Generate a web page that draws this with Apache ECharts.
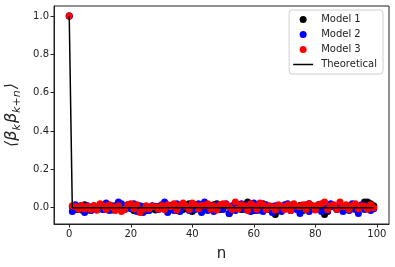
<!DOCTYPE html>
<html>
<head>
<meta charset="utf-8">
<script src="https://cdn.jsdelivr.net/npm/echarts@6/dist/echarts.min.js"></script>
<style>html,body{margin:0;padding:0;background:#fff}#c{width:395px;height:267px}</style>
</head>
<body>
<div id="c"></div>
<script>
const model1 = [
  1.0, 0.005, -0.010, 0.008, -0.012, 0.015, -0.008, -0.015, 0.010, -0.005,
  0.012, -0.010, 0.005, 0.008, -0.012, 0.010, -0.005, 0.012, -0.008, 0.005,
  0.010, -0.015, -0.010, -0.020, 0.005, -0.015, -0.010, 0.008, -0.012, 0.005,
  0.010, -0.008, 0.012, -0.010, 0.005, -0.015, 0.008, -0.010, 0.012, 0.020,
  -0.020, 0.015, 0.005, -0.010, 0.020, 0.010, -0.008, 0.015, 0.020, -0.010,
  0.005, 0.010, -0.030, 0.008, -0.005, 0.012, -0.010, 0.015, 0.030, -0.012,
  -0.015, 0.010, -0.012, 0.020, 0.005, -0.010, 0.008, -0.035, 0.005, -0.012,
  0.010, 0.015, -0.010, 0.005, -0.008, 0.012, -0.015, 0.010, 0.020, -0.005,
  0.008, 0.010, -0.012, -0.035, -0.020, 0.005, 0.010, -0.008, 0.012, 0.005,
  -0.010, 0.008, -0.005, 0.010, -0.008, 0.005, 0.030, 0.030, 0.020, 0.010
];
const model2 = [
  1.0, -0.020, 0.015, -0.010, 0.012, -0.025, 0.010, -0.015, 0.005, -0.012,
  0.015, -0.010, 0.025, -0.015, 0.010, -0.008, 0.030, 0.020, -0.010, 0.015,
  -0.005, 0.020, -0.020, 0.010, -0.025, 0.005, -0.015, 0.010, 0.008, -0.010,
  0.015, 0.030, -0.025, 0.010, -0.015, 0.020, -0.020, 0.005, 0.010, -0.015,
  0.015, -0.010, 0.020, -0.025, 0.030, -0.015, 0.010, -0.020, 0.015, 0.005,
  -0.010, 0.020, -0.030, 0.010, -0.015, 0.005, 0.020, -0.010, 0.015, -0.020,
  0.025, -0.015, 0.010, -0.020, 0.015, -0.010, -0.025, 0.010, 0.005, -0.020,
  0.015, 0.020, -0.015, 0.005, -0.010, -0.030, 0.010, 0.015, -0.020, 0.010,
  -0.010, 0.015, -0.020, 0.010, -0.015, 0.020, 0.005, -0.010, 0.015, -0.020,
  0.010, -0.015, 0.020, -0.010, -0.030, 0.015, -0.010, 0.010, -0.015, -0.005
];
const model3 = [
  1.0, 0.010, 0.005, -0.008, 0.012, -0.005, 0.008, -0.010, 0.010, -0.012,
  0.020, 0.008, -0.010, 0.015, 0.005, -0.015, 0.010, -0.020, -0.010, 0.015,
  0.020, -0.005, 0.015, -0.025, -0.010, 0.010, -0.005, 0.008, 0.005, -0.008,
  0.012, -0.010, 0.015, 0.005, 0.020, -0.012, 0.010, 0.025, 0.008, -0.010,
  0.025, 0.015, -0.005, 0.012, 0.010, 0.020, -0.008, 0.010, -0.012, 0.015,
  0.020, 0.018, 0.005, -0.010, 0.030, -0.005, 0.015, 0.010, -0.015, 0.020,
  0.010, -0.008, 0.025, 0.015, -0.010, 0.010, 0.005, -0.012, 0.015, 0.008,
  -0.010, 0.015, -0.015, 0.020, 0.008, 0.005, 0.015, -0.010, 0.020, 0.010,
  -0.012, 0.015, 0.020, 0.030, -0.010, 0.010, 0.015, -0.008, 0.030, 0.005,
  0.015, -0.010, 0.010, 0.020, -0.005, 0.010, 0.008, -0.008, 0.015, 0.000
];
const theoN = [0, 1, 99];
const theoV = [1, 0, 0];
const xTicks = [0, 20, 40, 60, 80, 100];
const yTicks = [0, 0.2, 0.4, 0.6, 0.8, 1.0];

const toPairs = arr => arr.map((v, i) => [i, v]);
const font = 'DejaVu Sans';
const chart = echarts.init(document.getElementById('c'), null, {renderer: 'canvas'});
chart.setOption({
  animation: false,
  backgroundColor: '#fff',
  textStyle: {fontFamily: font},
  grid: {left: 54, right: 6, top: 6, bottom: 43, outerBoundsMode: 'none', containLabel: false,
         show: true, borderColor: '#222', borderWidth: 1, backgroundColor: 'transparent'},
  legend: {
    orient: 'vertical', right: 12, top: 10,
    padding: [4, 6, 4, 4], itemGap: 4, itemWidth: 20, itemHeight: 7,
    borderColor: '#d0d0d0', borderWidth: 1, borderRadius: 3,
    backgroundColor: 'rgba(255,255,255,0.85)',
    textStyle: {fontFamily: font, fontSize: 10, color: '#222', lineHeight: 11, padding: [0, 0, 0, 3]},
    data: [
      {name: 'Model 1', icon: 'circle'},
      {name: 'Model 2', icon: 'circle'},
      {name: 'Model 3', icon: 'circle'},
      {name: 'Theoretical', icon: 'path://M0,0 H20 V1.5 H0 Z'}
    ]
  },
  xAxis: {
    type: 'value', min: -4.95, max: 103.95,
    name: 'n', nameLocation: 'middle', nameGap: 23,
    nameTextStyle: {fontFamily: font, fontSize: 15, color: '#222'},
    axisLine: {show: true, onZero: false, lineStyle: {color: '#222', width: 1}},
    axisTick: {show: true, length: 3.5, customValues: xTicks, lineStyle: {color: '#222'}},
    axisLabel: {customValues: xTicks, fontSize: 10, color: '#222', margin: 5},
    splitLine: {show: false}
  },
  yAxis: {
    type: 'value', min: -0.085, max: 1.052,
    name: '{t|⟨β}{s|k}{t|β}{s|k+n}{t|⟩}', nameLocation: 'middle', nameGap: 29, nameRotate: 90,
    nameTextStyle: {
      color: '#222',
      rich: {
        t: {fontFamily: font, fontSize: 16, fontStyle: 'italic', color: '#222'},
        s: {fontFamily: font, fontSize: 11, fontStyle: 'italic', color: '#222', padding: [9, 1, 0, 0]}
      }
    },
    axisLine: {show: true, onZero: false, lineStyle: {color: '#222', width: 1}},
    axisTick: {show: true, length: 3.5, customValues: yTicks, lineStyle: {color: '#222'}},
    axisLabel: {customValues: yTicks, fontSize: 10, color: '#222', margin: 5, formatter: v => v.toFixed(1)},
    splitLine: {show: false}
  },
  series: [
    {name: 'Model 1', type: 'scatter', data: toPairs(model1), symbolSize: 7, itemStyle: {color: '#000', opacity: 1}, z: 2},
    {name: 'Model 2', type: 'scatter', data: toPairs(model2), symbolSize: 7, itemStyle: {color: '#0000ff', opacity: 1}, z: 2},
    {name: 'Model 3', type: 'scatter', data: toPairs(model3), symbolSize: 7, itemStyle: {color: '#ff0000', opacity: 1}, z: 2},
    {name: 'Theoretical', type: 'line', data: theoN.map((n, i) => [n, theoV[i]]), symbol: 'none', lineStyle: {color: '#000', width: 1.5}, itemStyle: {color: '#000'}, z: 3}
  ]
});
</script>
</body>
</html>
